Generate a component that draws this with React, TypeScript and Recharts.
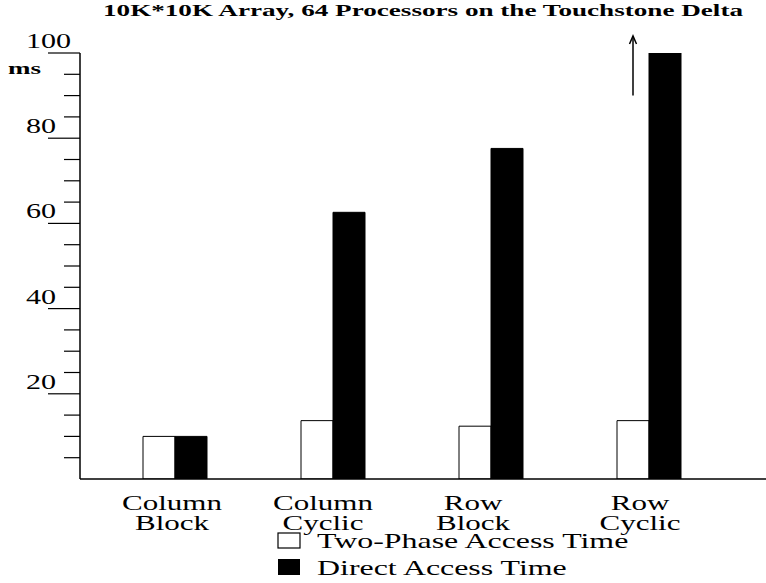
import React from 'react';
import { BarChart, Bar, XAxis, YAxis, Legend, LabelList, Customized } from 'recharts';

const categories = ['Column Block', 'Column Cyclic', 'Row Block', 'Row Cyclic'];
const twoPhaseTimes = [10, 13.7, 12.4, 13.7];
const directTimes = [10, 62.6, 77.6, 100];
const yTicks = [0, 5, 10, 15, 20, 25, 30, 35, 40, 45, 50, 55, 60, 65, 70, 75, 80, 85, 90, 95, 100];
const yTickLabels = [20, 40, 60, 80, 100];
const seriesNames = ['Two-Phase Access Time', 'Direct Access Time'];
const titleText = '10K*10K Array, 64 Processors on the Touchstone Delta';
const unitText = 'ms';
const arrowFrom = 90;
const arrowTo = 104;

const data = categories.map((c, i) => ({ category: c, twoPhase: twoPhaseTimes[i], direct: directTimes[i] }));

const SERIF = "'Liberation Serif', 'Times New Roman', Times, serif";
const SX = 1.41;
const LSX = 1.45;
const labelShift = [-3, -10, -18, -9];
const txtStyle: React.CSSProperties = { fontFamily: SERIF, fontSize: 22 };

const YTick = (props: any) => {
  const { x, y, payload } = props;
  const v = payload.value;
  if (v === 0) return null;
  const major = yTickLabels.includes(v);
  const len = major ? 32 : 16;
  return (
    <g>
      <line x1={x - len} x2={x} y1={y} y2={y} stroke="#000" strokeWidth={1.2} />
      {major && (
        <text
          transform={`translate(${x - 54},${y - 5}) scale(${SX * 0.97},1)`}
          x={0}
          y={0}
          textAnchor="start"
          style={txtStyle}
          fill="#000"
        >
          {v}
        </text>
      )}
    </g>
  );
};

const XTick = (props: any) => {
  const { x, y, payload, index } = props;
  const lines = String(payload.value).split(' ');
  const cx = x + (labelShift[index] || 0);
  return (
    <text
      transform={`translate(${cx},${y + 23}) scale(${SX},1)`}
      x={0}
      y={0}
      textAnchor="middle"
      style={txtStyle}
      fill="#000"
    >
      {lines.map((l, i) => (
        <tspan key={i} x={0} dy={i === 0 ? 0 : 20}>
          {l}
        </tspan>
      ))}
    </text>
  );
};

const LegendContent = () => (
  <svg width={420} height={55} style={{ display: 'block' }}>
    <rect x={18} y={5} width={22} height={15} fill="#fff" stroke="#000" strokeWidth={1.2} />
    <text transform={`translate(57,20) scale(${LSX},1)`} style={txtStyle} fill="#000">
      {seriesNames[0]}
    </text>
    <rect x={18} y={31} width={22} height={16} fill="#000" />
    <text transform={`translate(57,47) scale(${LSX},1)`} style={txtStyle} fill="#000">
      {seriesNames[1]}
    </text>
  </svg>
);

const ArrowLabel = (props: any) => {
  const { x, y, width, height, value, index } = props;
  if (index !== categories.length - 1) return null;
  const base = Number(y) + Number(height);
  const ppu = Number(height) / Number(value);
  const cx = Number(x) + Number(width) / 2;
  const y1 = base - arrowFrom * ppu;
  const y2 = base - arrowTo * ppu;
  return (
    <g>
      <line x1={cx} x2={cx} y1={y1} y2={y2} stroke="#000" strokeWidth={1.5} />
      <polyline points={`${cx - 3.5},${y2 + 8} ${cx},${y2} ${cx + 3.5},${y2 + 8}`} fill="none" stroke="#000" strokeWidth={1.5} />
    </g>
  );
};

const Titles = () => (
  <g>
    <text
      x={103}
      y={16}
      textLength={640}
      lengthAdjust="spacingAndGlyphs"
      style={{ fontFamily: SERIF, fontWeight: 'bold', fontSize: 17 }}
      fill="#000"
    >
      {titleText}
    </text>
    <text
      x={8}
      y={74}
      textLength={33}
      lengthAdjust="spacingAndGlyphs"
      style={{ fontFamily: SERIF, fontWeight: 'bold', fontSize: 17 }}
      fill="#000"
    >
      {unitText}
    </text>
  </g>
);

export default function App() {
  return (
    <div style={{ position: 'absolute', left: 0, top: 0, width: 766, height: 583, background: '#fff' }}>
      <BarChart
        width={766}
        height={583}
        data={data}
        margin={{ top: 53, right: 0, bottom: 0, left: 0 }}
        barSize={32}
        barGap={0}
      >
        <XAxis
          dataKey="category"
          height={104}
          padding={{ left: 16, right: 38 }}
          axisLine={{ stroke: '#000', strokeWidth: 1.5 }}
          tickLine={false}
          interval={0}
          tick={<XTick />}
        />
        <YAxis
          width={80}
          domain={[0, 100]}
          ticks={yTicks}
          interval={0}
          allowDataOverflow
          axisLine={{ stroke: '#000', strokeWidth: 1.5 }}
          tickLine={false}
          tickSize={0}
          tickMargin={0}
          tick={<YTick />}
        />
        <Bar dataKey="twoPhase" name={seriesNames[0]} fill="#fff" stroke="#000" strokeWidth={1} isAnimationActive={false}>
          <LabelList dataKey="twoPhase" content={<ArrowLabel />} />
        </Bar>
        <Bar dataKey="direct" name={seriesNames[1]} fill="#000" stroke="#000" strokeWidth={1} isAnimationActive={false} />
        <Legend
          layout="horizontal"
          verticalAlign="middle"
          align="center"
          content={<LegendContent />}
          wrapperStyle={{ position: 'absolute', left: 260, top: 528, width: 420, height: 55 }}
        />
        <Customized component={Titles} />
      </BarChart>
    </div>
  );
}
